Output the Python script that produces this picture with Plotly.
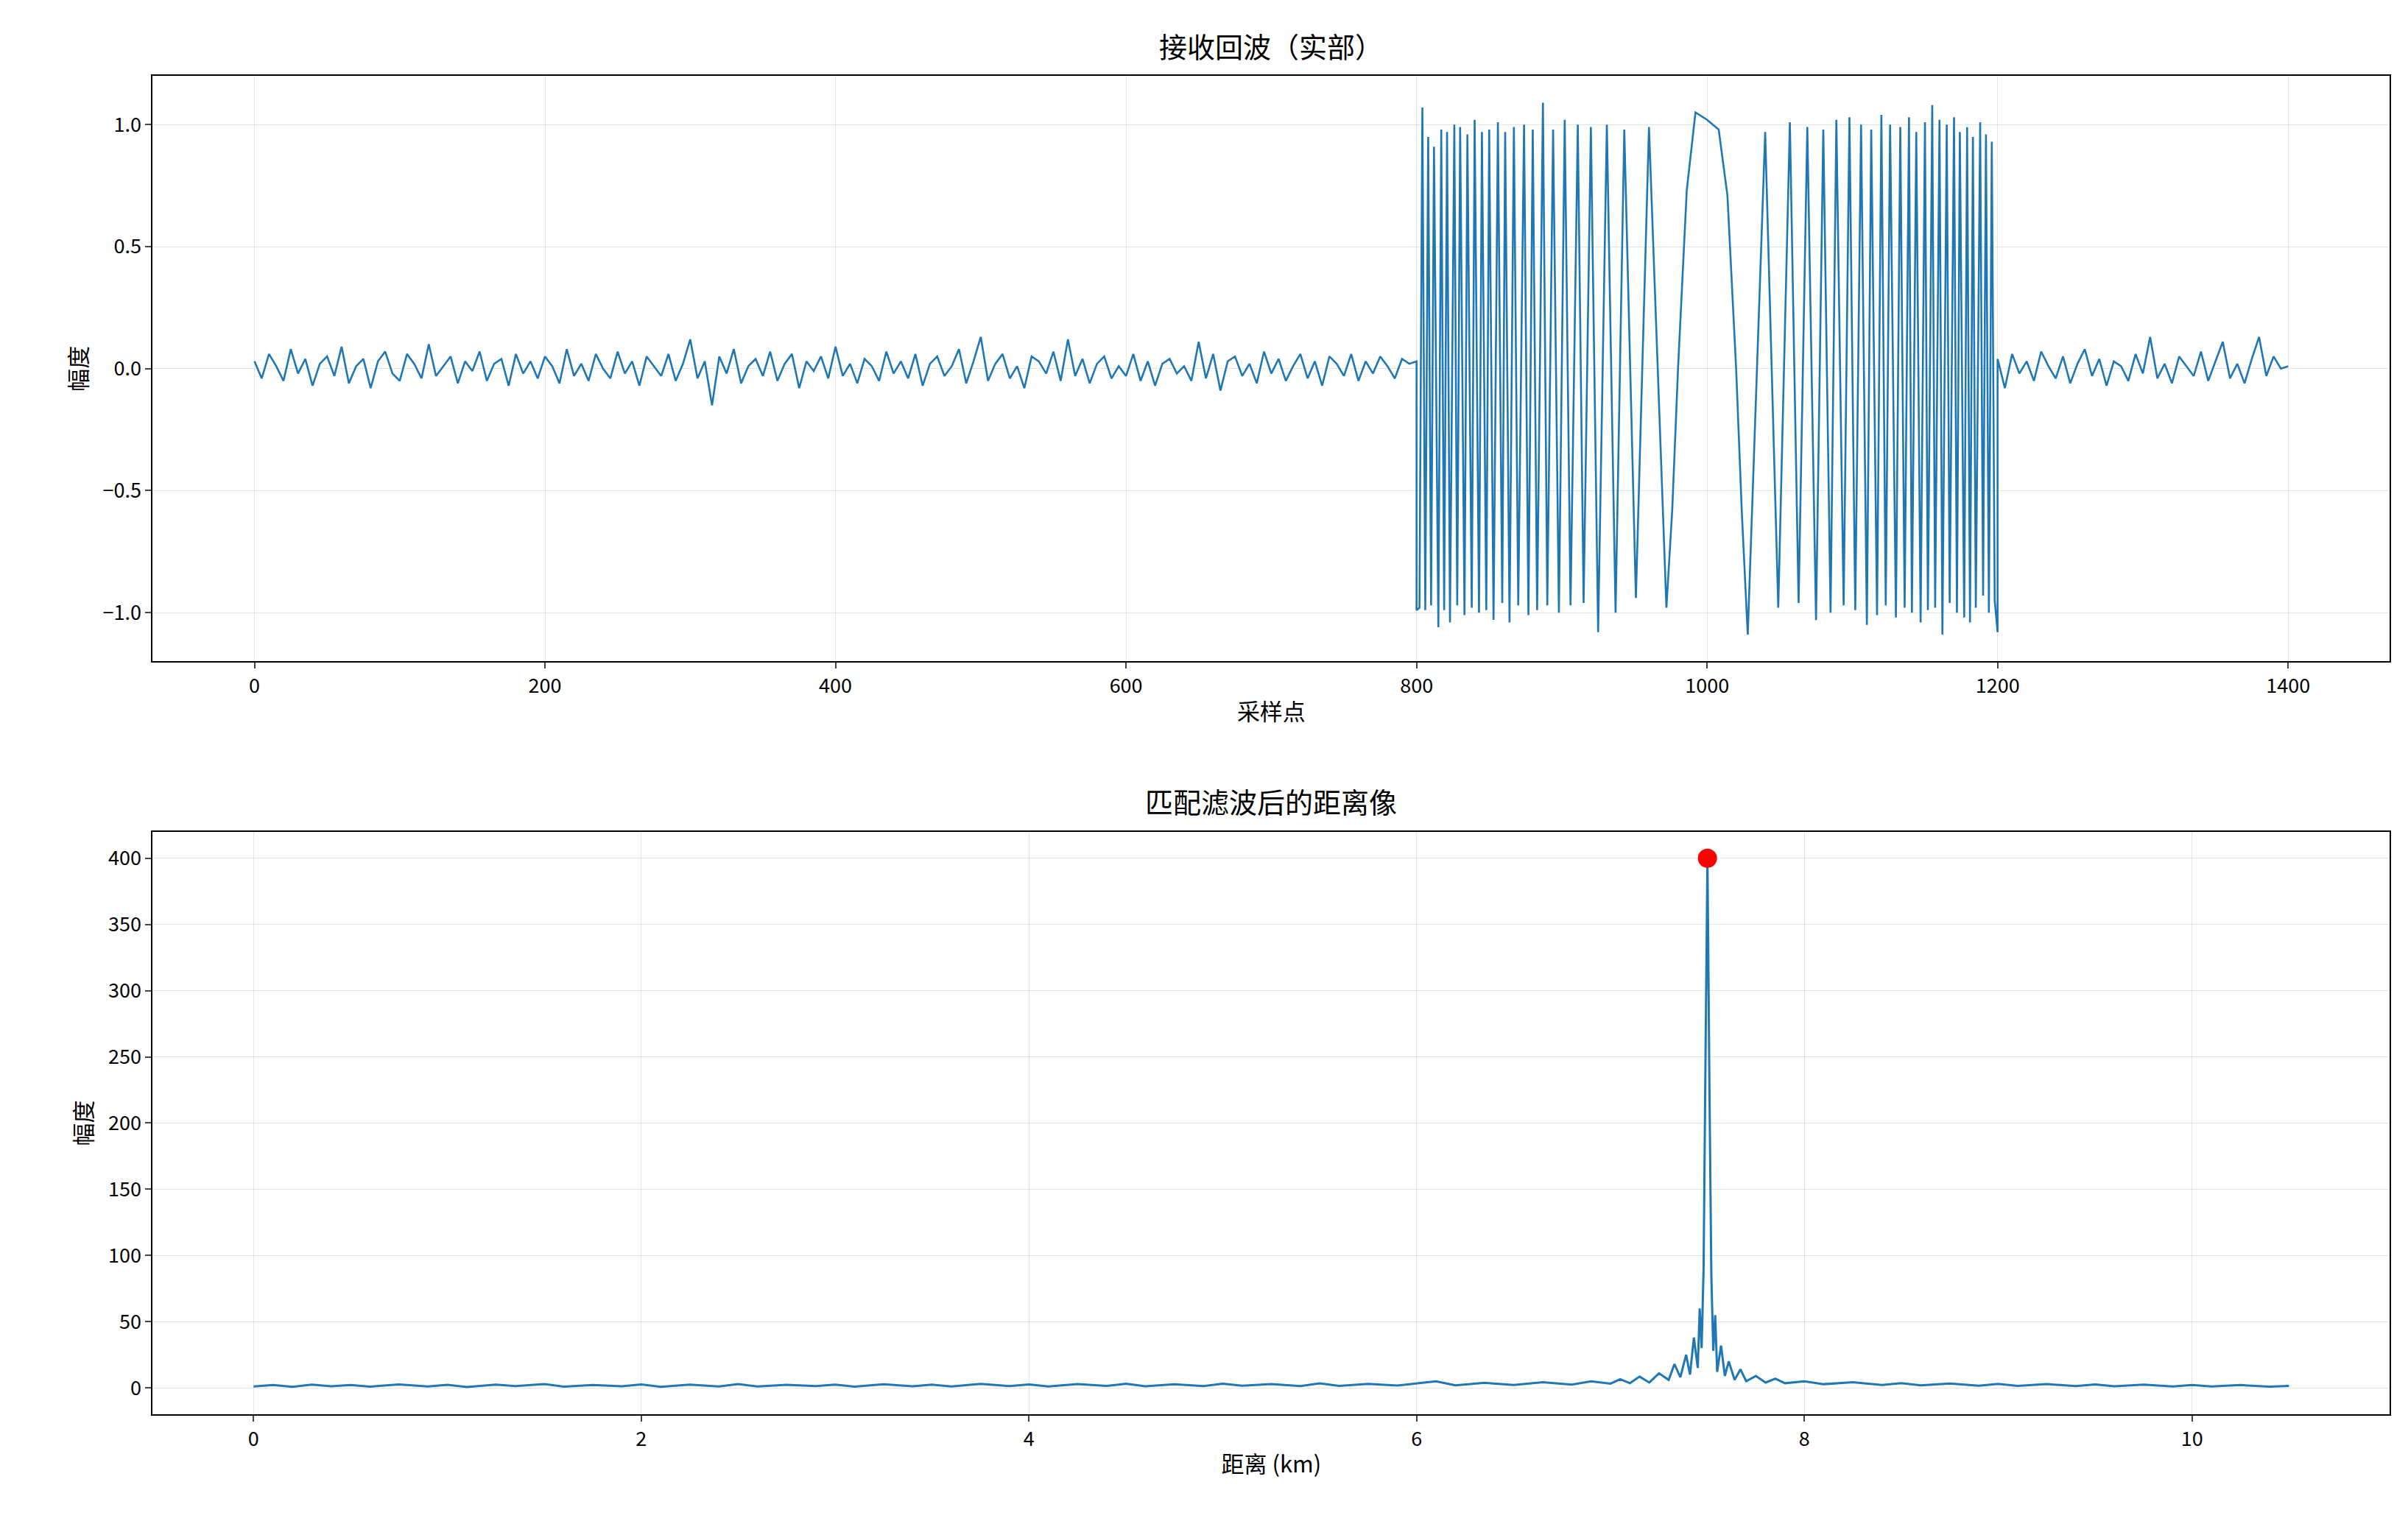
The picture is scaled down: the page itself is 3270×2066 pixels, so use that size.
import plotly.graph_objects as go

# ---- top panel: received echo (real part) ----
noise_left = [0.03,-0.04,0.06,0.01,-0.05,0.08,-0.02,0.04,-0.07,0.02,0.05,-0.03,0.09,-0.06,0.01,0.04,-0.08,0.03,0.07,-0.02,
 -0.05,0.06,0.02,-0.04,0.10,-0.03,0.01,0.05,-0.06,0.03,-0.01,0.07,-0.05,0.02,0.04,-0.07,0.06,-0.02,0.03,-0.04,
 0.05,0.01,-0.06,0.08,-0.03,0.02,-0.05,0.06,0.00,-0.04,0.07,-0.02,0.03,-0.07,0.05,0.01,-0.03,0.06,-0.05,0.02,
 0.12,-0.04,0.03,-0.15,0.05,-0.02,0.08,-0.06,0.01,0.04,-0.03,0.07,-0.05,0.02,0.06,-0.08,0.03,-0.01,0.05,-0.04,
 0.09,-0.03,0.02,-0.06,0.04,0.01,-0.05,0.07,-0.02,0.03,-0.04,0.06,-0.07,0.02,0.05,-0.03,0.01,0.08,-0.06,0.03,
 0.13,-0.05,0.02,0.06,-0.04,0.01,-0.08,0.05,0.03,-0.02,0.07,-0.05,0.12,-0.03,0.04,-0.06,0.02,0.05,-0.04,0.01,
 -0.03,0.06,-0.05,0.03,-0.07,0.02,0.04,-0.02,0.01,-0.05,0.11,-0.04,0.06,-0.09,0.03,0.05,-0.03,0.02,-0.06,0.07,
 -0.02,0.04,-0.05,0.01,0.06,-0.04,0.03,-0.07,0.05,0.02,-0.03,0.06,-0.05,0.03,-0.02,0.05,0.01,-0.04,0.04,0.02,0.03]
noise_right = [0.04,-0.08,0.06,-0.02,0.03,-0.05,0.07,0.01,-0.04,0.05,-0.06,0.02,0.08,-0.03,0.04,-0.07,0.03,0.01,-0.05,0.06,
 -0.02,0.13,-0.04,0.02,-0.06,0.05,0.01,-0.03,0.07,-0.05,0.03,0.11,-0.04,0.02,-0.06,0.04,0.13,-0.03,0.05,0.00,0.01]
# chirp extrema: offsets from sample 1000 and amplitudes (right side / left side)
chirp_d = [0,8,14,20,24,28,40,49,57,63,69,75,80,85,89,94,98,102,106,110,113,117,120,123,126,130,133,136,139,141,
           144,147,150,152,155,157,160,162,165,167,170,172,174,177,179,181,183,185,188,190,192,194,196,198,200]
chirp_v_right = [1.02,0.98,0.71,0.0,-0.6,-1.09,0.97,-0.98,1.01,-0.96,0.99,-1.03,0.98,-1.0,1.02,-0.97,1.03,-0.99,1.0,-1.05,
                 0.98,-1.01,1.04,-0.97,1.0,-1.02,0.99,-0.98,1.03,-1.0,0.97,-1.04,1.01,-0.99,1.08,-0.98,1.02,-1.09,1.0,-0.96,
                 1.03,-1.0,0.97,-1.02,0.99,-1.04,0.95,-0.98,1.01,-0.93,0.96,-1.0,0.93,-0.95,-1.08]
chirp_v_left = [1.02,1.05,0.73,0.0,-0.58,-0.98,0.99,-0.94,0.98,-1.0,1.0,-1.08,0.99,-0.96,1.0,-0.97,1.02,-1.0,0.98,-0.97,
                1.09,-0.99,0.98,-1.01,1.0,-0.97,0.99,-1.04,0.97,-0.96,1.01,-1.03,0.98,-0.99,0.97,-1.0,1.02,-0.98,0.96,-1.01,
                0.99,-0.97,1.0,-1.04,0.97,-0.99,0.98,-1.06,0.91,-0.97,0.95,-0.99,1.07,-0.98,-0.99]

x1, y1 = [], []
for i, v in enumerate(noise_left):
    x1.append(i * 5); y1.append(v)
for d, v in zip(reversed(chirp_d), reversed(chirp_v_left)):
    x1.append(1000 - d); y1.append(v)
for d, v in zip(chirp_d[1:], chirp_v_right[1:]):
    x1.append(1000 + d); y1.append(v)
for i, v in enumerate(noise_right):
    x1.append(1200 + i * 5); y1.append(v)

# ---- bottom panel: matched filter range profile ----
range_km = [0,0.1,0.2,0.3,0.4,0.5,0.6,0.75,0.9,1,1.1,1.25,1.35,1.5,1.6,1.75,1.9,2,2.1,2.25,2.4,2.5,2.6,2.75,2.9,3,3.1,3.25,3.4,3.5,
            3.6,3.75,3.9,4,4.1,4.25,4.4,4.5,4.6,4.75,4.9,5,5.1,5.25,5.4,5.5,5.6,5.75,5.9,6,6.1,6.2,6.35,6.5,6.65,6.8,6.9,7,7.05,7.1,
            7.15,7.2,7.25,7.3,7.33,7.36,7.39,7.41,7.43,7.45,7.46,7.47,7.48,7.49,7.5,7.51,7.52,7.53,7.54,7.55,7.57,7.59,7.61,7.64,7.67,
            7.7,7.75,7.8,7.85,7.9,8,8.1,8.25,8.4,8.5,8.6,8.75,8.9,9,9.1,9.25,9.4,9.5,9.6,9.75,9.9,10,10.1,10.25,10.4,10.5]
amp = [1,2.2,0.8,2.5,1.2,2.1,0.9,2.6,1.1,2.3,0.7,2.4,1.3,2.8,0.9,2.2,1.2,2.6,0.8,2.4,1.1,2.9,1.0,2.3,1.4,2.5,0.9,2.7,1.2,2.4,
       1.0,3.0,1.3,2.6,1.1,2.8,1.5,3.1,1.2,2.7,1.4,3.2,1.6,2.9,1.3,3.4,1.5,3.0,1.8,3.6,5,1.9,3.8,2.2,4.2,2.5,5.0,3.2,6.5,3.5,
       8.5,4,11,6,18,8,25,10,38,15,60,30,90,250,400,230,85,28,55,12,32,9,20,6,14,
       5,9,4,7,3.5,5,2.8,4.2,2.2,3.6,1.9,3.3,1.6,3.0,1.5,2.8,1.3,2.6,1.2,2.4,1.1,2.2,1.0,2.1,0.9,1.5]
peak_x = [7.5]
peak_y = [400]

blue = "#1f77b4"
font = "Noto Sans CJK SC, Noto Sans, sans-serif"
fig = go.Figure()
fig.add_trace(go.Scatter(x=x1, y=y1, mode="lines", line=dict(color=blue, width=2.6), xaxis="x", yaxis="y", showlegend=False))
fig.add_trace(go.Scatter(x=range_km, y=amp, mode="lines", line=dict(color=blue, width=3), xaxis="x2", yaxis="y2", showlegend=False))
fig.add_trace(go.Scatter(x=peak_x, y=peak_y, mode="markers", marker=dict(color="red", size=26), xaxis="x2", yaxis="y2", showlegend=False))

ax = dict(showline=True, linecolor="black", linewidth=2, mirror=True, ticks="outside", ticklen=8, tickwidth=2,
          gridcolor="rgba(0,0,0,0.1)", zeroline=False, tickfont=dict(size=27, color="black"))
fig.update_layout(
    width=3270, height=2066, margin=dict(l=0, r=0, t=0, b=0), plot_bgcolor="white", paper_bgcolor="white",
    font=dict(family=font, size=27, color="black"),
    xaxis=dict(ax, domain=[0.061, 0.990], range=[-70, 1470], dtick=200, anchor="y",
               title=dict(text="采样点", font=dict(size=31), standoff=8)),
    yaxis=dict(ax, domain=[0.569, 0.954], range=[-1.2, 1.2], dtick=0.5, tickformat=".1f", anchor="x",
               title=dict(text="幅度", font=dict(size=31), standoff=12)),
    xaxis2=dict(ax, domain=[0.061, 0.990], range=[-0.52, 11.02], dtick=2, anchor="y2",
                title=dict(text="距离 (km)", font=dict(size=31), standoff=8)),
    yaxis2=dict(ax, domain=[0.074, 0.457], range=[-20, 420], dtick=50, anchor="x2",
                title=dict(text="幅度", font=dict(size=31), standoff=12)),
    annotations=[
        dict(text="接收回波（实部）", x=0.5255, y=0.960, xref="paper", yref="paper", xanchor="center", yanchor="bottom", showarrow=False, font=dict(size=38)),
        dict(text="匹配滤波后的距离像", x=0.5255, y=0.463, xref="paper", yref="paper", xanchor="center", yanchor="bottom", showarrow=False, font=dict(size=38)),
    ],
)
fig.write_html("out.html")
